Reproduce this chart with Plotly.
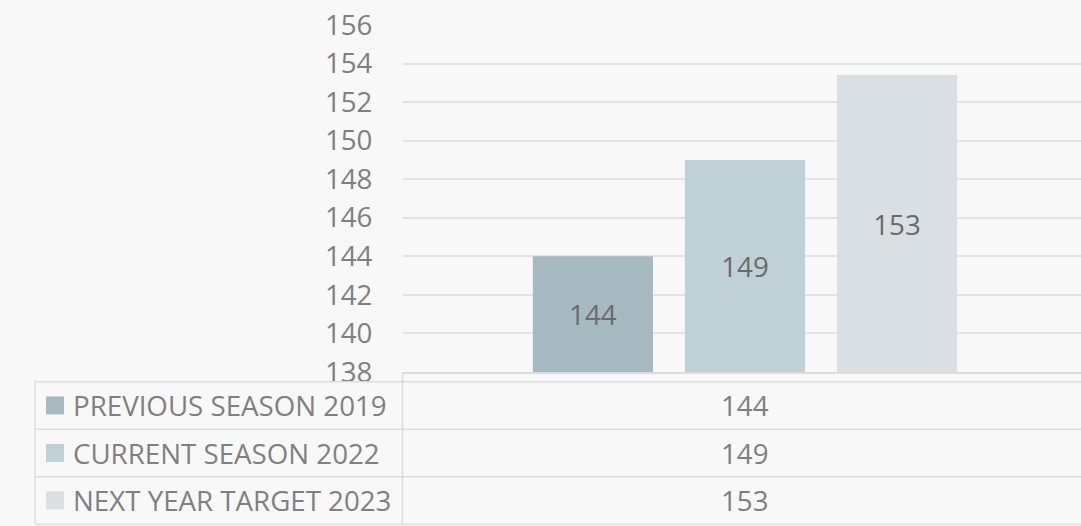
import plotly.graph_objects as go

# ---- data ----
categories = ["Total"]
series_names = ["PREVIOUS SEASON 2019", "CURRENT SEASON 2022", "NEXT YEAR TARGET 2023"]
series_values = [144, 149, 153.4]
series_colors = ["#a7b9c0", "#bfd0d7", "#d8e0e3"]
y_ticks = [138, 140, 142, 144, 146, 148, 150, 152, 154, 156]
y_min, y_max = 138, 156

# ---- layout geometry (pixels) ----
W_PX, H_PX = 1081, 526
L, R, T, B = 403, 0, 25, 154
PW = W_PX - L - R
PH = H_PX - T - B

def px_x(px):
    return (px - L) / PW

def px_y(py):
    return (H_PX - B - py) / PH

FONT = "Open Sans"
FS = 27.7
GRID = "#e2e2e2"
TEXT_GREY = "#808080"

fig = go.Figure()
for name, val, col in zip(series_names, series_values, series_colors):
    fig.add_trace(go.Bar(
        x=categories, y=[val - y_min], base=[y_min], name=name,
        customdata=[val],
        marker=dict(color=col, line=dict(width=0)),
        texttemplate="%{customdata:.0f}",
        textposition="inside", insidetextanchor="middle", textangle=0,
        textfont=dict(family=FONT, size=FS, color="#6b6b6b"),
        hovertemplate="%{customdata}<extra>" + name + "</extra>",
    ))

shapes = []
annotations = []
line_style = dict(color="#dcdcdc", width=1.5)

row_top = 381.7
row_h = 47.5
left_px = 35
div_px = 402.5

shapes.append(dict(type="line", xref="paper", yref="paper",
                   x0=px_x(left_px), x1=1.0, y0=px_y(row_top), y1=px_y(row_top), line=line_style))
for i in range(1, len(series_names) + 1):
    yy = px_y(row_top + i * row_h)
    shapes.append(dict(type="line", xref="paper", yref="paper",
                       x0=px_x(left_px), x1=1.0, y0=yy, y1=yy, line=line_style))
shapes.append(dict(type="line", xref="paper", yref="paper",
                   x0=px_x(left_px), x1=px_x(left_px), y0=px_y(row_top),
                   y1=px_y(row_top + len(series_names) * row_h), line=line_style))
shapes.append(dict(type="line", xref="paper", yref="paper",
                   x0=px_x(div_px), x1=px_x(div_px), y0=0,
                   y1=px_y(row_top + len(series_names) * row_h), line=line_style))

for i, (name, val, col) in enumerate(zip(series_names, series_values, series_colors)):
    cy = row_top + (i + 0.5) * row_h
    shapes.append(dict(type="rect", xref="paper", yref="paper",
                       x0=px_x(46), x1=px_x(64), y0=px_y(cy + 9), y1=px_y(cy - 9),
                       fillcolor=col, line=dict(width=0)))
    annotations.append(dict(text=name, xref="paper", yref="paper",
                            x=px_x(71), y=px_y(cy), xanchor="left", yanchor="middle",
                            showarrow=False, font=dict(family=FONT, size=FS, color=TEXT_GREY)))
    annotations.append(dict(text=f"{val:.0f}", xref="x", yref="paper",
                            x=categories[0], y=px_y(cy), xanchor="center", yanchor="middle",
                            showarrow=False, font=dict(family=FONT, size=FS, color=TEXT_GREY)))

fig.update_layout(
    width=W_PX, height=H_PX,
    margin=dict(l=L, r=R, t=T, b=B, pad=0),
    paper_bgcolor="#f8f8f8", plot_bgcolor="#f8f8f8",
    barmode="group", bargap=0.333, bargroupgap=0.21,
    showlegend=False,
    font=dict(family=FONT, size=FS, color=TEXT_GREY),
    xaxis=dict(type="category", range=[-0.5, 0.4913], showticklabels=False,
               showgrid=False, zeroline=False, showline=True,
               linecolor="#dcdcdc", linewidth=1.5, fixedrange=True),
    yaxis=dict(range=[y_min, y_max], tickvals=y_ticks, ticktext=[str(v) for v in y_ticks],
               showgrid=True, gridcolor=GRID, gridwidth=1.5, zeroline=False,
               showline=False, ticks="outside", ticklen=24, tickcolor="rgba(0,0,0,0)",
               tickfont=dict(family=FONT, size=FS, color=TEXT_GREY), fixedrange=True),
    shapes=shapes,
    annotations=annotations,
)

fig.write_html("out.html", config={"displayModeBar": False},
               post_script="document.body.style.margin='0';document.body.style.overflow='hidden';")
